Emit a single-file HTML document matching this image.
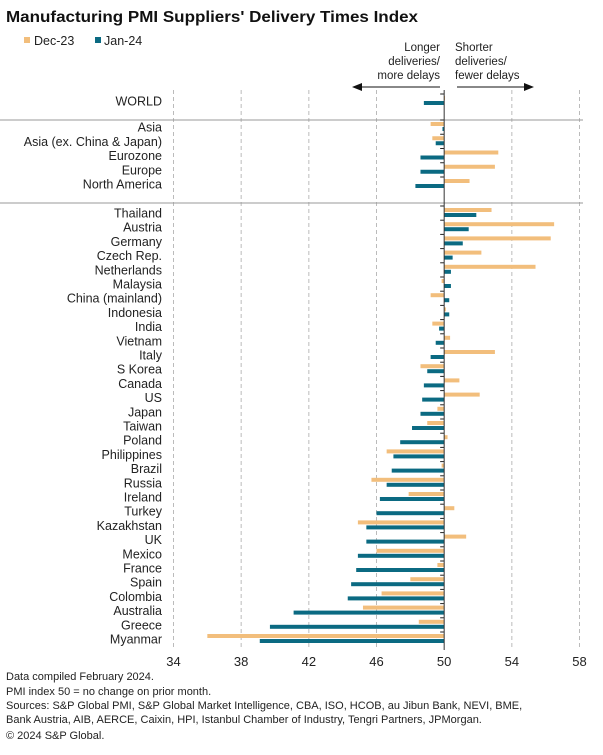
<!DOCTYPE html>
<html><head><meta charset="utf-8"><style>
body{margin:0;background:#fff;font-family:"Liberation Sans",Arial,sans-serif;}
svg text{font-family:"Liberation Sans",Arial,sans-serif;}
</style></head><body>
<svg id="chart" width="603" height="750" viewBox="0 0 603 750" xmlns="http://www.w3.org/2000/svg">
<text x="6" y="22" font-size="16" font-weight="bold" fill="#111" textLength="412" lengthAdjust="spacingAndGlyphs">Manufacturing PMI Suppliers' Delivery Times Index</text>
<g>
<rect x="24" y="37" width="6" height="6" fill="#f2be7c"/>
<text x="34" y="45" font-size="12.5" fill="#222">Dec-23</text>
<rect x="95" y="37" width="6" height="6" fill="#0b6a82"/>
<text x="104" y="45" font-size="12.5" fill="#222">Jan-24</text>
</g>
<g font-size="11.5" fill="#222">
<text x="440" y="51" text-anchor="end">Longer</text>
<text x="440" y="65" text-anchor="end">deliveries/</text>
<text x="440" y="79" text-anchor="end">more delays</text>
<text x="455" y="51">Shorter</text>
<text x="455" y="65">deliveries/</text>
<text x="455" y="79">fewer delays</text>
<line x1="440" y1="87" x2="360" y2="87" stroke="#111" stroke-width="1"/>
<polygon points="352,87 362,83 362,91" fill="#111"/>
<line x1="457" y1="87" x2="526" y2="87" stroke="#111" stroke-width="1"/>
<polygon points="534,87 524,83 524,91" fill="#111"/>
</g>
<g id="grid"></g>
<g id="bars"></g>
<g id="labels"></g>
<g font-size="11" fill="#222">
<text x="6" y="680">Data compiled February 2024.</text>
<text x="6" y="695">PMI index 50 = no change on prior month.</text>
<text x="6" y="709">Sources: S&amp;P Global PMI, S&amp;P Global Market Intelligence, CBA, ISO, HCOB, au Jibun Bank, NEVI, BME,</text>
<text x="6" y="723">Bank Austria, AIB, AERCE, Caixin, HPI, Istanbul Chamber of Industry, Tengri Partners, JPMorgan.</text>
<text x="6" y="739">© 2024 S&amp;P Global.</text>
</g>
</svg>
<script>
const categories=["WORLD","Asia","Asia (ex. China & Japan)","Eurozone","Europe","North America","Thailand","Austria","Germany","Czech Rep.","Netherlands","Malaysia","China (mainland)","Indonesia","India","Vietnam","Italy","S Korea","Canada","US","Japan","Taiwan","Poland","Philippines","Brazil","Russia","Ireland","Turkey","Kazakhstan","UK","Mexico","France","Spain","Colombia","Australia","Greece","Myanmar"];
const dec23=[50.05,49.2,49.3,53.2,53.0,51.5,52.8,56.5,56.3,52.2,55.4,49.85,49.2,50.1,49.3,50.35,53.0,48.6,50.9,52.1,49.6,49.0,50.2,46.6,49.85,45.7,47.9,50.6,44.9,51.3,46.0,49.6,48.0,46.3,45.2,48.5,36.0];
const jan24=[48.8,49.9,49.5,48.6,48.6,48.3,51.9,51.45,51.1,50.5,50.4,50.4,50.3,50.3,49.7,49.5,49.2,49.0,48.8,48.7,48.6,48.1,47.4,47.0,46.9,46.6,46.2,46.0,45.4,45.4,44.9,44.8,44.5,44.3,41.1,39.7,39.1];
const xTicks=[34,38,42,46,50,54,58];
const NS="http://www.w3.org/2000/svg";
const x=v=>173.5+(v-34)*(406/24);
function rowY(i){ if(i===0) return 101; if(i<6) return 127+(i-1)*14.25; return 213+(i-6)*14.2; }
function mk(tag,attrs,parent){const e=document.createElementNS(NS,tag);for(const k in attrs)e.setAttribute(k,attrs[k]);parent.appendChild(e);return e;}
const grid=document.getElementById('grid'),bars=document.getElementById('bars'),labels=document.getElementById('labels');
xTicks.forEach(t=>{
  if(t!==50){const l=mk('line',{x1:x(t),x2:x(t),y1:90,y2:650,stroke:'#bbb','stroke-dasharray':'4,3','stroke-width':1},grid);
  
  }
  const tx=mk('text',{x:x(t),y:666,'font-size':13,'text-anchor':'middle',fill:'#222'},grid);tx.textContent=t;
  
  
});
[120,203].forEach((yy,k)=>{const l=mk('line',{x1:0,x2:583,y1:yy,y2:yy,stroke:'#999','stroke-width':1},grid);
  
  });
categories.forEach((c,i)=>{
  const y=rowY(i);
  const d=dec23[i],j=jan24[i];
  const r1=mk('rect',{x:Math.min(x(d),x(50)),y:y-5,width:Math.max(Math.abs(x(d)-x(50)),0.8),height:4,fill:'#f2be7c'},bars);
  
  
  const r2=mk('rect',{x:Math.min(x(j),x(50)),y:y,width:Math.max(Math.abs(x(j)-x(50)),0.8),height:4,fill:'#0b6a82'},bars);
  
  
  const t=mk('text',{x:162,y:y+4.5,'font-size':12.5,'text-anchor':'end',fill:'#222'},labels);t.textContent=c;
  
  
  const tk=mk('line',{x1:x(50)-4,x2:x(50),y1:y-7,y2:y-7,stroke:'#222','stroke-width':1},bars);
  
  
});
const ax=mk('line',{x1:x(50),x2:x(50),y1:90,y2:650,stroke:'#333','stroke-width':1},bars);


</script>
</body></html>
